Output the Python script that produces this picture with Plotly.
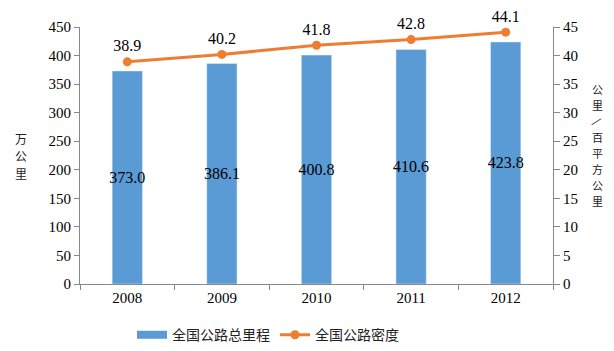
import plotly.graph_objects as go

years = ["2008", "2009", "2010", "2011", "2012"]
mileage = [373.0, 386.1, 400.8, 410.6, 423.8]
density = [38.9, 40.2, 41.8, 42.8, 44.1]
left_ticks = [0, 50, 100, 150, 200, 250, 300, 350, 400, 450]
right_ticks = [0, 5, 10, 15, 20, 25, 30, 35, 40, 45]
left_title = "万公里"
right_title = "公里/百平方公里"

serif = "Liberation Serif, Times New Roman, serif"
cjk = "Noto Sans CJK SC"
blue = "#5B9BD5"
orange = "#ED7D31"

fig = go.Figure()
fig.add_trace(go.Bar(
    x=years, y=mileage, name="全国公路总里程",
    marker_color=blue, showlegend=False,
    text=[f"{v:.1f}" for v in mileage],
    textposition="inside", insidetextanchor="middle",
    textangle=0, constraintext="none",
    textfont=dict(family=serif, size=16, color="black"),
    cliponaxis=False,
))
# legend swatch for the bars (wide rectangle as in the reference)
fig.add_trace(go.Scatter(
    x=[None], y=[None], name="全国公路总里程", mode="lines",
    line=dict(color=blue, width=8), showlegend=True,
))
fig.add_trace(go.Scatter(
    x=years, y=density, name="全国公路密度", yaxis="y2",
    mode="lines+markers+text",
    line=dict(color=orange, width=3),
    marker=dict(color=orange, size=9),
    text=[f"{v:.1f}" for v in density],
    textposition="top center",
    textfont=dict(family=serif, size=16, color="black"),
    cliponaxis=False,
))

fig.update_layout(
    width=614, height=351,
    margin=dict(l=80, r=61, t=27, b=67, autoexpand=False),
    plot_bgcolor="white", paper_bgcolor="white",
    bargap=0.68,
    showlegend=True,
    legend=dict(orientation="h", xref="container", yref="container",
                x=0.215, xanchor="left", y=0.045, yanchor="middle",
                font=dict(family=cjk, size=14, color="#222"), traceorder="normal",
                itemwidth=30),
    xaxis=dict(showline=True, linecolor="#888", ticks="outside", tickson="boundaries",
               ticklen=5, tickcolor="#888", showgrid=False,
               tickfont=dict(family=serif, size=15, color="black")),
    yaxis=dict(range=[0, 450], tickvals=left_ticks, showline=True, linecolor="#888",
               ticks="outside", ticklen=5, tickcolor="#888", showgrid=False, zeroline=False,
               tickfont=dict(family=serif, size=15, color="black")),
    yaxis2=dict(range=[0, 45], tickvals=right_ticks, overlaying="y", side="right",
                showline=True, linecolor="#888", ticks="outside", ticklen=6, tickcolor="#888",
                showgrid=False, zeroline=False,
                tickfont=dict(family=serif, size=15, color="black")),
)

def vertical_title(chars, x, y_center, step, size):
    n = len(chars)
    for i, ch in enumerate(chars):
        off = (i - (n - 1) / 2) * step
        fig.add_annotation(text=ch, xref="paper", yref="paper", x=x, y=y_center,
                           yshift=-off, showarrow=False,
                           font=dict(family=cjk, size=size, color="#222"),
                           xanchor="center", yanchor="middle",
                           textangle=40 if ch == "/" else 0)

vertical_title(left_title, -0.125, 0.50, 17.5, 12)
vertical_title(right_title, 1.095, 0.54, 16, 11)

fig.write_html("out.html")
